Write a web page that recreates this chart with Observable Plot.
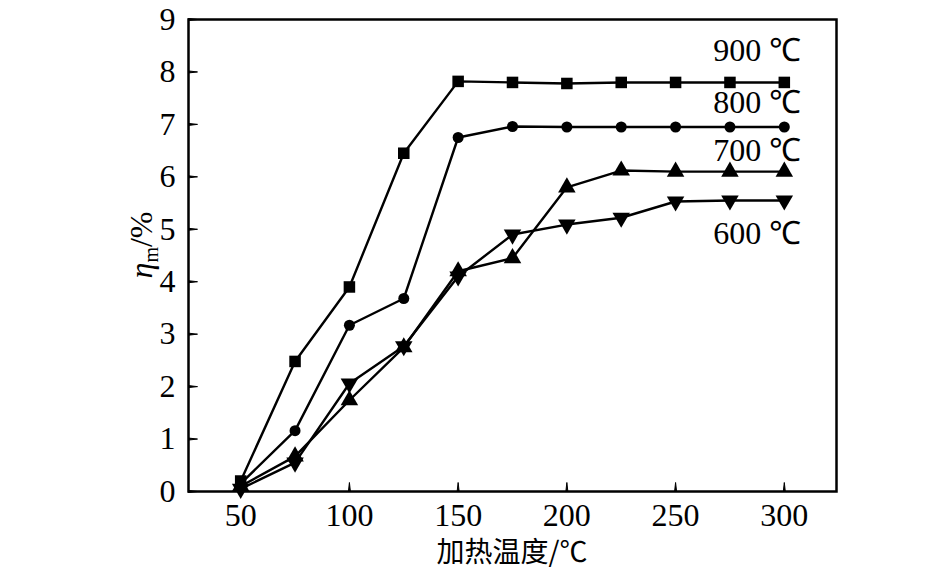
<!DOCTYPE html>
<html><head><meta charset="utf-8">
<script src="https://cdn.jsdelivr.net/npm/d3@7"></script>
<script src="https://cdn.jsdelivr.net/npm/@observablehq/plot@0.6"></script>
<style>body{margin:0;background:#fff;} svg text{font-family:"Liberation Serif",serif;}</style>
</head><body><div id="chart"></div>
<script>
const temps = [50, 75, 100, 125, 150, 175, 200, 225, 250, 275, 300];
const seriesNames = ["900 ℃", "800 ℃", "700 ℃", "600 ℃"];
const eta900 = [0.2, 2.48, 3.9, 6.45, 7.82, 7.8, 7.78, 7.8, 7.8, 7.8, 7.8];
const eta800 = [0.15, 1.16, 3.17, 3.68, 6.75, 6.96, 6.95, 6.95, 6.95, 6.95, 6.95];
const eta700 = [0.1, 0.67, 1.74, 2.75, 4.2, 4.45, 5.8, 6.12, 6.1, 6.1, 6.1];
const eta600 = [0.05, 0.55, 2.06, 2.77, 4.1, 4.9, 5.09, 5.22, 5.53, 5.55, 5.55];
const xTicks = [50, 100, 150, 200, 250, 300];
const yTicks = [0, 1, 2, 3, 4, 5, 6, 7, 8, 9];
const xTitle = "加热温度/℃";

const allSeries = [eta900, eta800, eta700, eta600];
const symbols = ["square", "circle", "triangle", "triangle"];
const rotations = [0, 0, 0, 180];
const radii = [6.5, 5.5, 6.5, 6.5];
const labelDy = [-32, -24, -21, 33];

const rows = [];
allSeries.forEach((vals, i) => vals.forEach((v, j) => rows.push({series: seriesNames[i], idx: i, t: temps[j], eta: v})));
const labels = seriesNames.map((s, i) => ({series: s, idx: i, t: temps[temps.length - 1], eta: allSeries[i][allSeries[i].length - 1]}));
const yTickRows = yTicks.map(v => ({v}));
const xTickRows = xTicks.map(v => ({v}));

const dotMarks = seriesNames.map((s, i) =>
  Plot.dot(rows.filter(d => d.idx === i), {x: "t", y: "eta", symbol: symbols[i], rotate: rotations[i], r: radii[i], fill: "#000", stroke: "none"}));
const labelMarks = seriesNames.map((s, i) =>
  Plot.text([labels[i]], {x: "t", y: "eta", text: "series", dy: labelDy[i], dx: 17, textAnchor: "end", fill: "#000", fontSize: 32}));

const svg = Plot.plot({
  width: 945, height: 576,
  marginLeft: 188, marginRight: 109, marginTop: 19, marginBottom: 85,
  style: {fontSize: "32px", background: "#fff", color: "#000"},
  x: {domain: [26, 324]},
  y: {domain: [0, 9]},
  marks: [
    Plot.vector(yTickRows, {y: "v", frameAnchor: "left", length: 9, r: 1, rotate: 90, anchor: "start", shape: "spike", fill: "#000", stroke: "#000", strokeWidth: 1}),
    Plot.vector(xTickRows, {x: "v", frameAnchor: "bottom", length: 9, r: 1, rotate: 0, anchor: "start", shape: "spike", fill: "#000", stroke: "#000", strokeWidth: 1}),
    Plot.axisY({ticks: yTicks, tickSize: 0, tickPadding: 13, label: null, fill: "#000", fontSize: 32}),
    Plot.axisX({ticks: xTicks, tickSize: 0, tickPadding: 12, label: null, fill: "#000", fontSize: 32}),
    Plot.line(rows, {x: "t", y: "eta", z: "series", stroke: "#000", strokeWidth: 2.4}),
    ...dotMarks,
    ...labelMarks,
    Plot.frame({stroke: "#000", strokeWidth: 2.5})
  ]
});
const s = d3.select(svg);
const yl = s.append("text")
  .attr("transform", "translate(152,245) rotate(-90)")
  .attr("text-anchor", "middle")
  .attr("font-size", 32)
  .attr("fill", "#000");
yl.append("tspan").attr("font-style", "italic").text("η");
yl.append("tspan").attr("font-size", 20).attr("dy", 6).text("m");
yl.append("tspan").attr("dy", -6).text("/%");
s.append("text")
  .attr("x", 512).attr("y", 562)
  .attr("text-anchor", "middle")
  .attr("font-size", 28)
  .style("font-family", "'Noto Sans CJK SC', sans-serif")
  .attr("fill", "#000")
  .text(xTitle);
document.getElementById("chart").appendChild(svg);
</script>
</body></html>
